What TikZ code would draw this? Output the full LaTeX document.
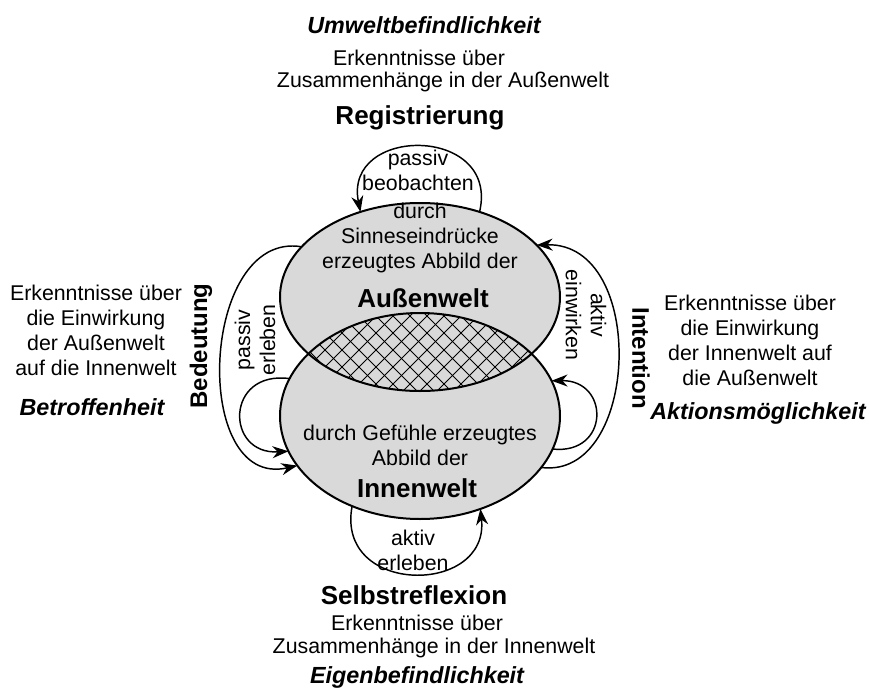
\documentclass[tikz,border=0pt]{standalone}
\usepackage{fontspec}
\setmainfont{Liberation Sans}
\usetikzlibrary{arrows.meta,shapes.geometric}

\begin{document}
\begin{tikzpicture}[x=0.75pt,y=-0.75pt,
    txt/.style={font=\fontsize{16}{18.75}\selectfont,align=center,inner sep=0pt},
    hdr/.style={font=\fontsize{19.5}{22}\selectfont\bfseries,inner sep=0pt},
    side/.style={font=\fontsize{18}{22}\selectfont\bfseries,inner sep=0pt},
    mood/.style={font=\fontsize{17.5}{21}\selectfont\bfseries\itshape,inner sep=0pt},
    world/.style={ellipse,fill=black!15,inner sep=0pt,outer sep=0pt,minimum width=210pt},
    loopline/.style={line width=1.1pt,-{Stealth[length=12pt,width=9pt]}}]
    \useasboundingbox (0,0) rectangle (869,700);

    \node[world,minimum height=141pt] (aussen) at (420,297) {};
    \node[world,minimum height=154.5pt] (innen) at (420,416) {};

    % overlap of the two worlds
    \begin{scope}
      \clip (aussen.center) ellipse [x radius=105pt,y radius=70.5pt];
      \clip (innen.center) ellipse [x radius=105pt,y radius=77.25pt];
      \foreach \a in {190,207,...,560} \draw[line width=0.7pt] (\a,300) -- ++(100,100);
      \foreach \a in {290,307,...,660} \draw[line width=0.7pt] (\a,300) -- ++(-100,100);
    \end{scope}

    \draw[line width=1.5pt] (aussen.center) ellipse [x radius=105pt,y radius=70.5pt]
    (innen.center) ellipse [x radius=105pt,y radius=77.25pt];

    % loops
    \draw[loopline] (aussen.55) .. controls (500,125) and (343,125) .. (aussen.125);
    \draw[loopline] (innen.-23) .. controls (640,480) and (648,242) .. (aussen.24);
    \draw[loopline] (innen.-14) .. controls (610,455) and (610,380) .. (innen.15);
    \draw[loopline] (aussen.157) .. controls (200,230) and (190,490) .. (innen.202);
    \draw[loopline] (innen.164) .. controls (225,370) and (225,455) .. (innen.195);
    \draw[loopline] (innen.233) .. controls (335,596) and (490,596) .. (innen.-57);

    \node[mood] (umwelt) at (424,25) {Umweltbefindlichkeit};
    \node[txt] (erkA1) at (419,58) {Erkenntnisse über};
    \node[txt] (erkA2) at (443,82) {Zusammenhänge in der Außenwelt};
    \node[hdr] (registrierung) at (420,118) {Registrierung};
    \node[txt] (beobachten) at (418,170) {passiv\\beobachten};
    \node[txt] (sinne) at (420,238) {durch\\Sinneseindrücke\\erzeugtes Abbild der};
    \node[hdr] (aussenwelt) at (423,298) {Außenwelt};
    \node[txt] (gefuehle) at (420,445) {durch Gefühle erzeugtes\\Abbild der};
    \node[hdr] (innenwelt) at (417,488) {Innenwelt};
    \node[txt] (aktErleben) at (413,550) {aktiv\\erleben};
    \node[hdr] (selbst) at (414,595) {Selbstreflexion};
    \node[txt] (erkI1) at (417,623) {Erkenntnisse über};
    \node[txt] (erkI2) at (434,648) {Zusammenhänge in der Innenwelt};
    \node[mood] (eigen) at (417,677) {Eigenbefindlichkeit};

    \node[txt,rotate=90] (pasErleben) at (255,340) {passiv\\erleben};
    \node[side,rotate=90] (bedeutung) at (201,346) {Bedeutung};
    \node[txt] (erkL) at (96,330) {Erkenntnisse über\\die Einwirkung\\der Außenwelt\\auf die Innenwelt};
    \node[mood] (betroffen) at (92,407) {Betroffenheit};

    \node[txt,rotate=-90] (einwirken) at (586,315) {aktiv\\einwirken};
    \node[side,rotate=-90] (intention) at (641,358) {Intention};
    \node[txt] (erkR) at (750,340) {Erkenntnisse über\\die Einwirkung\\der Innenwelt auf\\die Außenwelt};
    \node[mood] (aktion) at (758,413) {Aktionsmöglichkeit};
\end{tikzpicture}
\end{document}
